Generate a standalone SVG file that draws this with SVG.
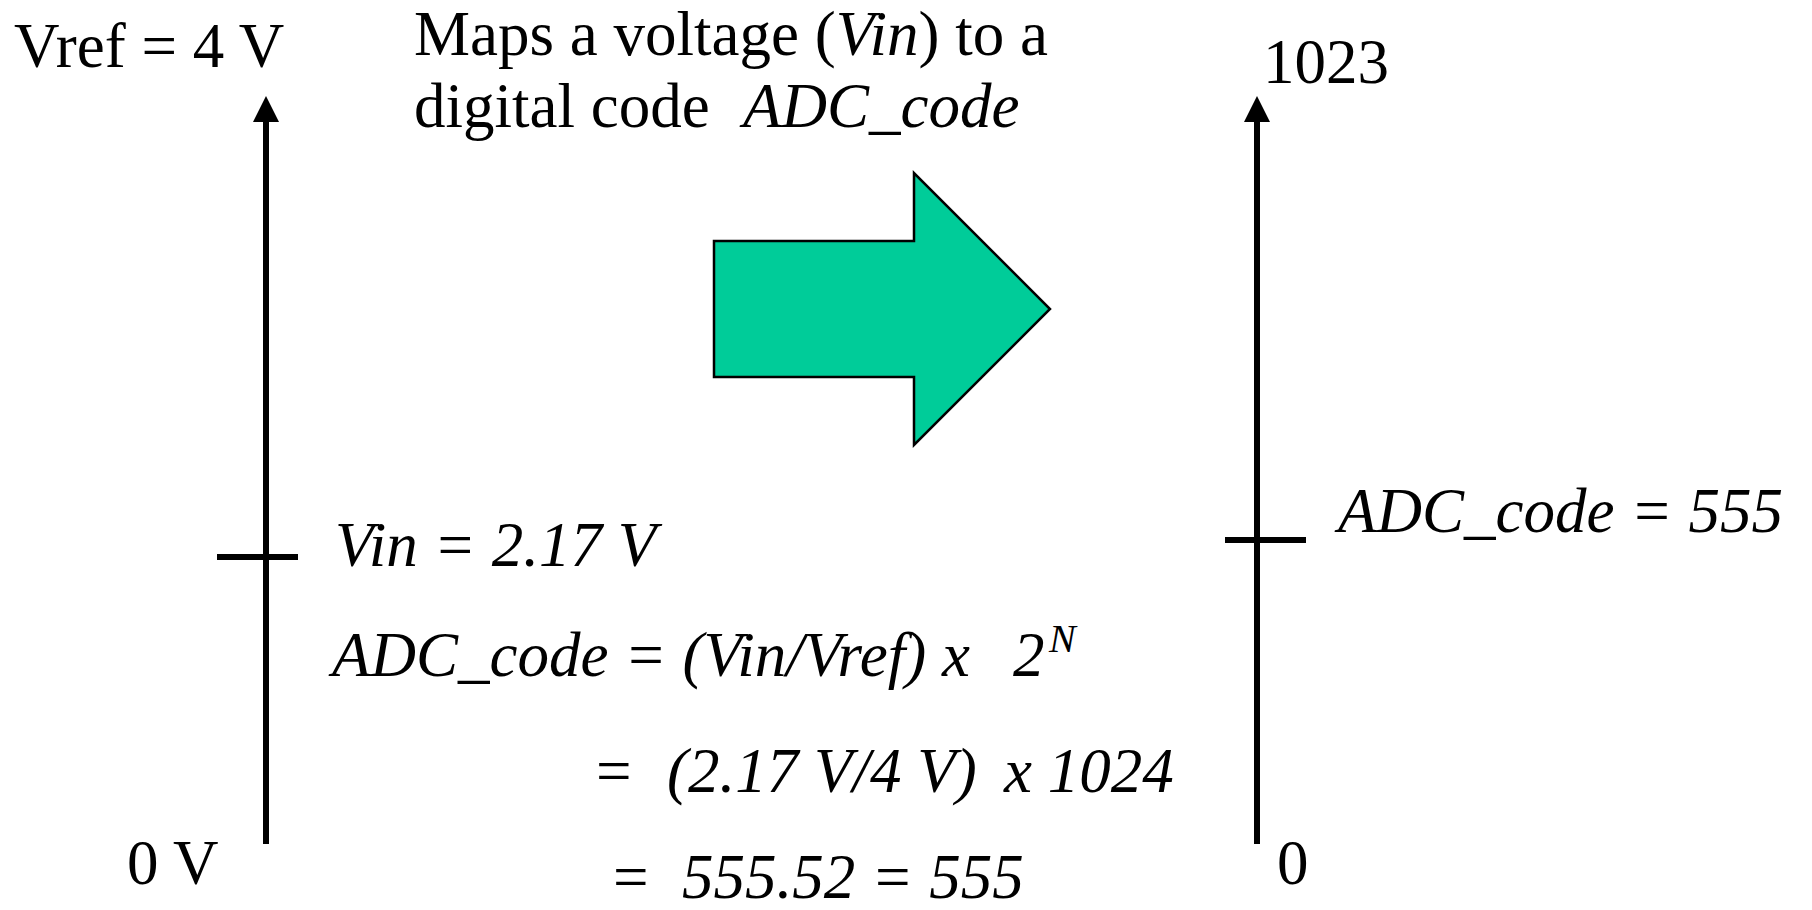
<svg xmlns="http://www.w3.org/2000/svg" width="1812" height="910" viewBox="0 0 1812 910">
<style>
text{font-family:"Liberation Serif","Times New Roman",serif;font-size:63px;fill:#000}
.i{font-style:italic}
.axis{stroke:#000;stroke-width:6;fill:none}
.tick{stroke:#000;stroke-width:6}
</style>
<defs>
<marker id="ah" markerUnits="userSpaceOnUse" markerWidth="26" markerHeight="26" refX="2" refY="13" orient="auto" viewBox="0 0 26 26">
<polygon points="0,0 26,13 0,26" fill="#000"/>
</marker>
</defs>
<rect width="1812" height="910" fill="#fff"/>
<g id="connectors">
<line class="axis" x1="266" y1="844" x2="266" y2="120" marker-end="url(#ah)"/>
<line class="tick" x1="217" y1="557" x2="298" y2="557"/>
<line class="axis" x1="1257" y1="844" x2="1257" y2="120" marker-end="url(#ah)"/>
<line class="tick" x1="1225" y1="540" x2="1306" y2="540"/>
</g>
<g id="big-arrow">
<polygon points="714,241 914,241 914,173 1050,309 914,445 914,377 714,377" fill="#00CC99" stroke="#000" stroke-width="2.5"/>
</g>
<g id="title">
<text x="414" y="55">Maps a voltage (<tspan class="i">Vin</tspan>) to a</text>
<text x="414" y="127">digital code <tspan class="i" x="743">ADC_code</tspan></text>
</g>
<g id="left-axis-labels">
<text x="14" y="67">Vref = 4 V</text>
<text x="127" y="884">0 V</text>
<text class="i" x="335" y="566">Vin = 2.17 V</text>
</g>
<g id="formula">
<text class="i" x="332" y="676">ADC_code = (Vin/Vref) x <tspan x="1013">2</tspan><tspan x="1049" dy="-24" font-size="40">N</tspan></text>
<text class="i" x="592" y="792">= <tspan x="667">(2.17 V/4 V)</tspan><tspan x="1004">x 1024</tspan></text>
<text class="i" x="609" y="898">= <tspan x="682">555.52 = 555</tspan></text>
</g>
<g id="right-axis-labels">
<text x="1263" y="83">1023</text>
<text x="1277" y="884">0</text>
<text class="i" x="1338" y="532">ADC_code = 555</text>
</g>
</svg>
